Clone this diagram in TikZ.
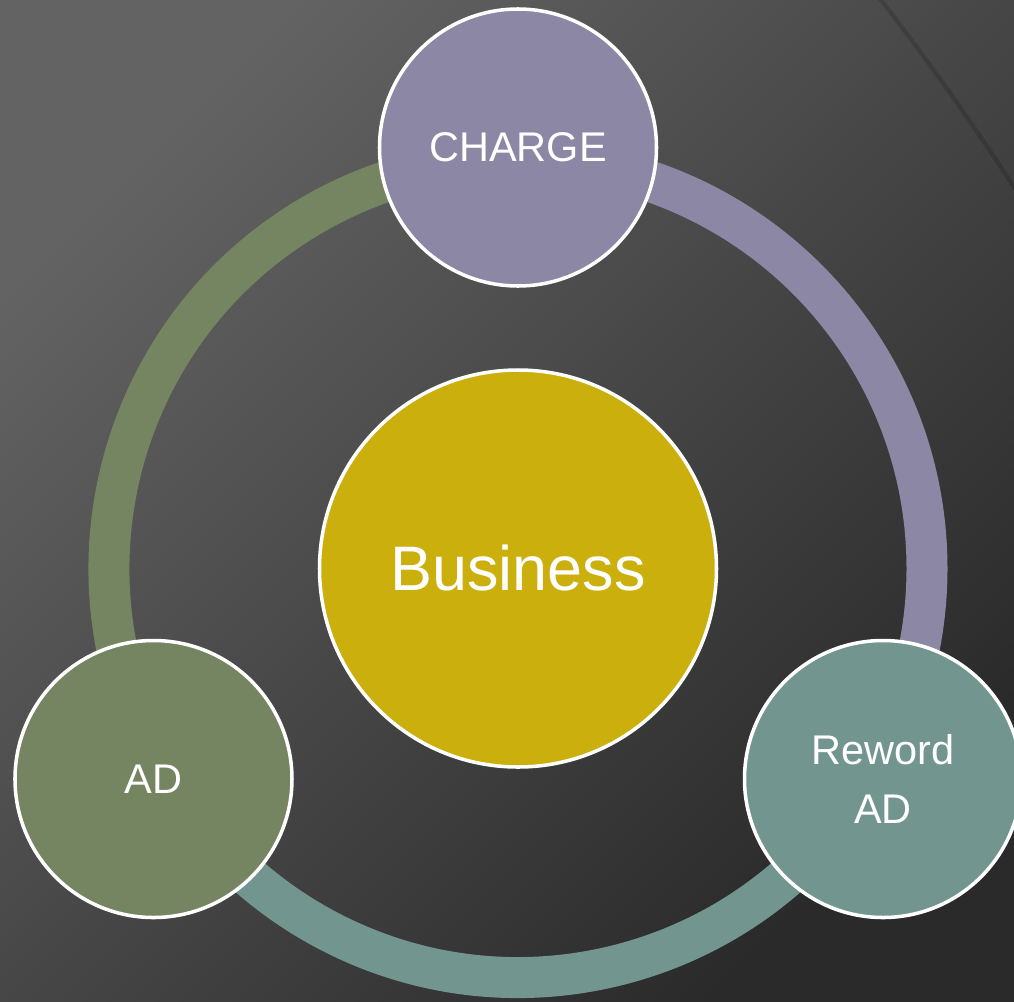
\documentclass[tikz,border=0pt]{standalone}
\usepackage{fontspec}
\setmainfont{Liberation Sans}
\usepackage{tikz}
\usetikzlibrary{positioning}
\usetikzlibrary{backgrounds}

\definecolor{bgtop}{HTML}{636363}
\definecolor{bgbot}{HTML}{2A2A2A}
\definecolor{chargecol}{HTML}{8B87A5}
\definecolor{adcol}{HTML}{758561}
\definecolor{rewordcol}{HTML}{72968F}
\definecolor{bizgold}{HTML}{CBAF0D}

\tikzset{
  hub/.style={circle, draw=white, line width=1pt, fill=bizgold, minimum size=3.97cm,
    inner sep=0pt, text=white, font=\fontsize{17.9}{21}\selectfont},
  spoke/.style={circle, draw=white, line width=1pt, minimum size=2.77cm,
    inner sep=0pt, text=white, align=center, font=\fontsize{11.8}{17}\selectfont},
  ring/.style={line width=0.41cm},
  arcshade/.style={line width=1.2pt, draw=black, opacity=0.15}
}

\begin{document}
\begin{tikzpicture}[node distance=4.21cm,on grid]
   \useasboundingbox (-5.18,-4.325) rectangle (4.96,5.685);
   \node[hub] (business) {Business};
   \node[spoke, fill=chargecol] (charge) [above=of business] {CHARGE};
   \node[spoke, fill=adcol] (ad) [below left=2.105cm and 3.645cm of business] {AD};
   \node[spoke, fill=rewordcol] (reword) [below right=2.105cm and 3.65cm of business] {Reword\\AD};
   \begin{scope}[on background layer]
     \shade[shading=axis, top color=bgtop, bottom color=bgbot, shading angle=45]
       (-5.18,-4.325) rectangle (4.96,5.685);
     \draw[arcshade] (3.58,5.75) .. controls (4.05,5.15) and (4.55,4.45) .. (5.02,3.72);
     % ring between the outer circles
     \draw[ring, draw=chargecol] (business.center) ++(90:4.09) arc[start angle=90, end angle=-30, radius=4.09];
     \draw[ring, draw=rewordcol] (business.center) ++(-30:4.09) arc[start angle=-30, end angle=-150, radius=4.09];
     \draw[ring, draw=adcol] (business.center) ++(210:4.09) arc[start angle=210, end angle=90, radius=4.09];
   \end{scope}
\end{tikzpicture}
\end{document}
